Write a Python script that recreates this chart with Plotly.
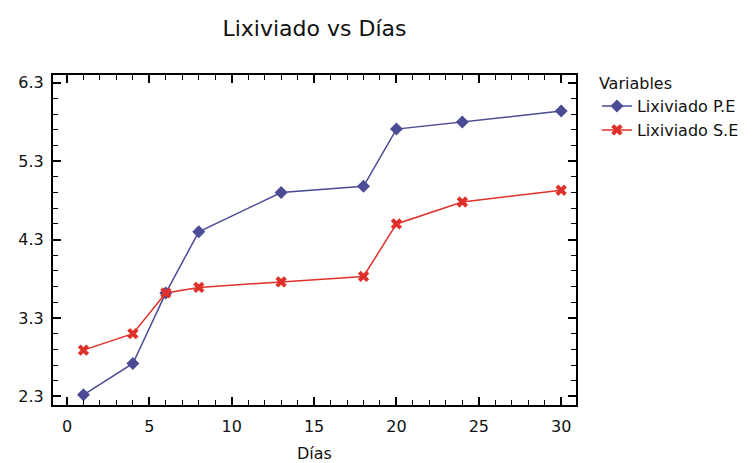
import plotly.graph_objects as go

dias = [1, 4, 6, 8, 13, 18, 20, 24, 30]
lix_pe = [2.32, 2.72, 3.62, 4.40, 4.90, 4.98, 5.71, 5.80, 5.94]
lix_se = [2.89, 3.10, 3.62, 3.69, 3.76, 3.83, 4.50, 4.78, 4.93]
y_ticks = [2.3, 3.3, 4.3, 5.3, 6.3]
x_ticks = [0, 5, 10, 15, 20, 25, 30]

blue = "#4b4b96"
red = "#e0302a"
font = "DejaVu Sans, Arial, sans-serif"

fig = go.Figure()
fig.add_trace(go.Scatter(x=dias, y=lix_pe, mode="lines+markers", name="Lixiviado P.E",
                         line=dict(color=blue, width=1.5),
                         marker=dict(symbol="diamond", size=10, color=blue)))
fig.add_trace(go.Scatter(x=dias, y=lix_se, mode="lines+markers", name="Lixiviado S.E",
                         line=dict(color=red, width=1.5),
                         marker=dict(symbol="x", size=10, color=red)))

axis_common = dict(showgrid=False, zeroline=False, showline=True, linecolor="black",
                   linewidth=2, mirror="ticks", ticks="inside", tickcolor="black",
                   tickwidth=1.5, ticklen=8, tickfont=dict(size=16, color="#111"),
                   automargin=False)

fig.update_xaxes(range=[-0.85, 30.9], tickvals=x_ticks,
                 minor=dict(dtick=1, ticks="inside", ticklen=5, tickcolor="black", tickwidth=1.2),
                 ticklabelstandoff=6,
                 title=dict(text="Días", font=dict(size=16, color="#111"), standoff=15),
                 **axis_common)
fig.update_yaxes(range=[2.19, 6.4], tickvals=y_ticks, ticktext=[f"{v:.1f}" for v in y_ticks],
                 minor=dict(tick0=2.3, dtick=0.2, ticks="inside", ticklen=5, tickcolor="black", tickwidth=1.2),
                 ticklabelstandoff=4,
                 **axis_common)

fig.update_layout(
    width=756, height=463,
    margin=dict(l=53, r=178, t=75, b=58),
    paper_bgcolor="white", plot_bgcolor="white",
    font=dict(family=font, color="#111"),
    title=dict(text="Lixiviado vs Días", x=0.5, xref="paper", xanchor="center",
               y=1 - 28 / 463, yanchor="middle", font=dict(size=22, color="#111")),
    legend=dict(title=dict(text="Variables", font=dict(size=16)), font=dict(size=16),
                x=1.04, xanchor="left", y=1.02, yanchor="top",
                bgcolor="rgba(0,0,0,0)", tracegroupgap=0, itemwidth=30),
    showlegend=True,
)

fig.write_html("out.html")
